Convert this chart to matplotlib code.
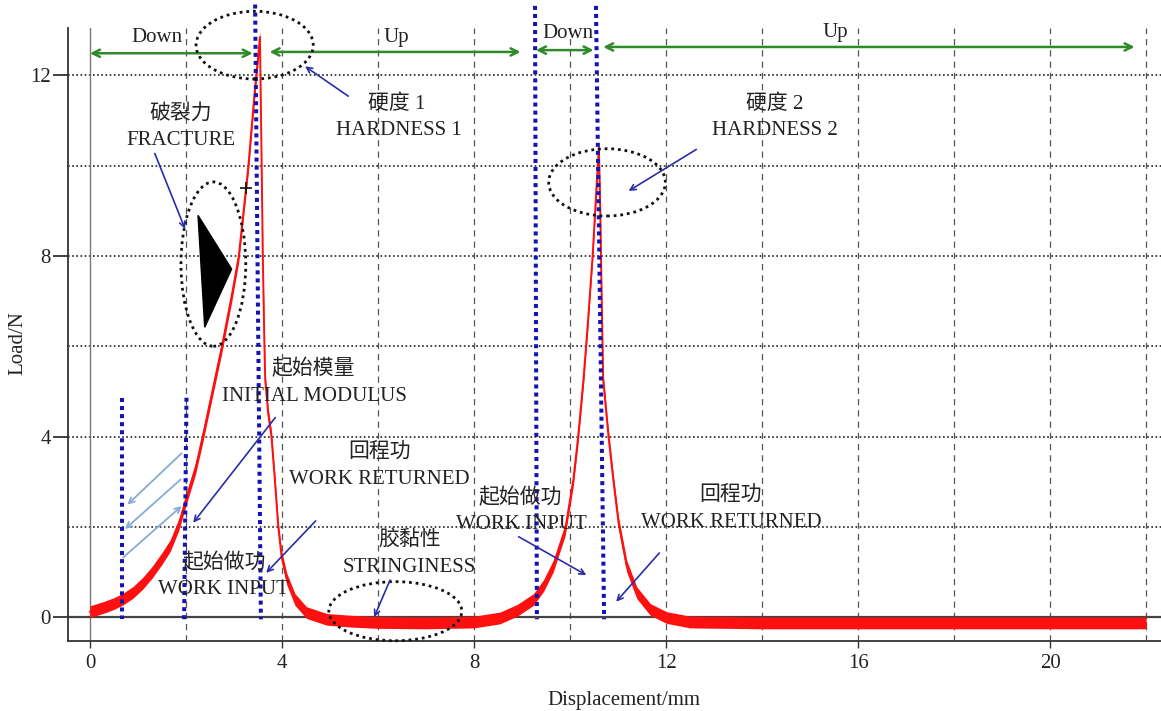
import matplotlib
matplotlib.use('Agg')
import matplotlib.pyplot as plt
import numpy as np
from matplotlib.patches import Ellipse, Polygon

plt.rcParams['font.family'] = ['Liberation Serif', 'Noto Sans CJK SC', 'DejaVu Sans']

# ---------------- data ----------------
curve_x = [0.0, 0.3, 0.5, 0.69, 0.9, 1.1, 1.3, 1.5, 1.67, 1.85, 2.0, 2.2, 2.35, 2.55, 2.75, 2.95,
           3.1, 3.23, 3.3, 3.42, 3.54, 3.57, 3.6, 3.63, 3.65, 3.71, 3.78, 3.85, 3.92, 3.99,
           4.1, 4.27, 4.51, 4.93, 5.42, 6.0, 7.0, 8.0, 8.54, 8.9, 9.24, 9.45, 9.65, 9.9,
           10.07, 10.17, 10.28, 10.37, 10.47, 10.55, 10.6, 10.63, 10.66, 10.69, 10.8, 10.9,
           11.01, 11.18, 11.39, 11.67, 12.01, 12.5, 14.0, 16.0, 18.0, 20.0, 22.0]
curve_y = [0.12, 0.22, 0.30, 0.40, 0.55, 0.75, 1.0, 1.3, 1.58, 2.05, 2.6, 3.3, 4.0, 5.0, 6.0, 7.1,
           8.0, 9.3, 10.0, 11.5, 12.85, 10.5, 8.0, 6.2, 5.26, 4.53, 4.0, 3.05, 2.02, 1.35,
           0.84, 0.39, 0.10, -0.05, -0.09, -0.12, -0.13, -0.11, -0.02, 0.15, 0.39, 0.70, 1.13, 1.94,
           3.05, 4.01, 5.27, 6.5, 8.0, 9.5, 10.4, 9.0, 7.0, 5.27, 4.01, 3.05,
           2.09, 1.13, 0.54, 0.17, -0.01, -0.11, -0.13, -0.13, -0.13, -0.13, -0.13]

x_ticks = [0, 4, 8, 12, 16, 20]
y_ticks = [0, 4, 8, 12]
x_grid = [2, 4, 6, 8, 10, 12, 14, 16, 18, 20, 22]
y_grid = [2, 4, 6, 8, 10, 12]

# blue dotted phase markers: (x_top, y_top, x_bottom, y_bottom)
marker_lines = [(0.66, 4.86, 0.66, -0.05),
                (2.01, 4.86, 1.96, -0.10),
                (3.44, 13.57, 3.56, -0.05),
                (9.27, 13.54, 9.31, -0.05),
                (10.54, 13.54, 10.71, -0.05)]

# green double arrows: (x_start, x_end, y), label, label position
phase_arrows = [(0.0, 3.39, 12.49), (3.74, 8.97, 12.52), (9.29, 10.49, 12.56), (10.69, 21.76, 12.63)]
phase_labels = ['Down', 'Up', 'Down', 'Up']
phase_label_pos = [(1.40, 12.85), (6.39, 12.85), (9.95, 12.93), (15.52, 12.95)]

# annotation texts
labels = ['硬度 1', 'HARDNESS 1', '破裂力', 'FRACTURE', '硬度 2', 'HARDNESS 2',
          '起始模量', 'INITIAL MODULUS', '回程功', 'WORK RETURNED', '起始做功', 'WORK INPUT',
          '胶黏性', 'STRINGINESS', '起始做功', 'WORK INPUT', '回程功', 'WORK RETURNED']
label_pos = [(6.39, 11.36), (6.44, 10.77), (1.89, 11.14), (1.90, 10.55), (14.27, 11.36), (14.26, 10.77),
             (4.66, 5.49), (4.67, 4.88), (6.03, 3.63), (6.03, 3.04), (8.97, 2.64), (8.99, 2.05),
             (6.66, 1.72), (6.66, 1.09), (2.79, 1.20), (2.79, 0.61), (13.35, 2.68), (13.35, 2.09)]

# dark blue pointer arrows: (start, end)
pointer_arrows = [((1.35, 10.27), (1.98, 8.60)),
                  ((5.38, 11.54), (4.48, 12.20)),
                  ((12.63, 10.36), (11.22, 9.44)),
                  ((3.86, 4.42), (2.15, 2.09)),
                  ((4.70, 2.13), (3.67, 0.98)),
                  ((6.25, 0.82), (5.92, 0.00)),
                  ((8.93, 1.78), (10.34, 0.93)),
                  ((11.86, 1.42), (10.96, 0.34))]

# light blue arrows (work input area)
light_arrows = [((1.91, 3.63), (0.78, 2.49)),
                ((1.89, 3.05), (0.73, 1.95)),
                ((0.69, 1.32), (1.91, 2.46))]

# dotted ellipses: (cx, cy, width, height)
ellipses = [(3.43, 12.67, 2.44, 1.50),
            (2.57, 7.82, 1.35, 3.64),
            (10.77, 9.63, 2.43, 1.49),
            (6.36, 0.13, 2.77, 1.31)]

triangle = [(2.25, 8.90), (2.95, 7.71), (2.39, 6.42)]
fracture_mark = (3.25, 9.5)

# ---------------- drawing ----------------
W, H = 1161, 711
fig = plt.figure(figsize=(W / 100, H / 100), dpi=100)
ax = fig.add_axes([68 / W, 70 / H, (W - 68) / W, (641 - 28) / H])
ax.set_xlim(-0.458, 22.31)
ax.set_ylim(-0.53, 13.05)

for s in ['top', 'right']:
    ax.spines[s].set_visible(False)
for s in ['left', 'bottom']:
    ax.spines[s].set_color('#333333')
    ax.spines[s].set_linewidth(1.3)

for gx in x_grid:
    ax.axvline(gx, color='#555555', lw=0.9, ls=(0, (5, 4)), zorder=1)
for gy in y_grid:
    ax.axhline(gy, color='#222222', lw=1.2, ls=(0, (1, 1.5)), zorder=1)
ax.axvline(0, color='#777777', lw=1.0, zorder=1)
ax.axhline(0, color='#444444', lw=1.6, zorder=1)

ax.set_xticks(x_ticks)
ax.set_yticks(y_ticks)
ax.tick_params(axis='y', length=10.5, width=1.3, color='#333333', pad=2, labelsize=15)
ax.tick_params(axis='x', length=5, width=1.0, color='#333333', pad=4, labelsize=15)
for t in ax.get_xticklabels() + ax.get_yticklabels():
    t.set_color('#222222')

cx = np.array(curve_x)
cy = np.array(curve_y)
ax.fill_between(cx, cy - 0.13, cy + 0.13, color='#ff1010', lw=0, zorder=3)
ax.plot(cx, cy, color='#ff1010', lw=1.4, zorder=3)

for (xt, yt, xb, yb) in marker_lines:
    ax.plot([xt, xb], [yt, yb], color='#1414b4', lw=2.9, ls=(0, (1, 1)),
            solid_capstyle='butt', dash_capstyle='butt', zorder=4, clip_on=False)

for (x0, x1, y) in phase_arrows:
    ax.annotate('', xy=(x1, y), xytext=(x0, y),
                arrowprops=dict(arrowstyle='<->', color='#2f8a2a', lw=1.8,
                                mutation_scale=13, shrinkA=0, shrinkB=0),
                zorder=5, annotation_clip=False)
for lab, (x, y) in zip(phase_labels, phase_label_pos):
    ax.text(x, y, lab, ha='center', va='center', fontsize=15, color='#222222',
            zorder=6, clip_on=False)

for lab, (x, y) in zip(labels, label_pos):
    ax.text(x, y, lab, ha='center', va='center', fontsize=15, color='#222222', zorder=6)

for (s, e) in pointer_arrows:
    ax.annotate('', xy=e, xytext=s,
                arrowprops=dict(arrowstyle='->', color='#2c2ca8', lw=1.2,
                                mutation_scale=10, shrinkA=0, shrinkB=0), zorder=6)
for (s, e) in light_arrows:
    ax.annotate('', xy=e, xytext=s,
                arrowprops=dict(arrowstyle='->', color='#86acd4', lw=1.3,
                                mutation_scale=10, shrinkA=0, shrinkB=0), zorder=6)

for (ex, ey, ew, eh) in ellipses:
    ax.add_patch(Ellipse((ex, ey), ew, eh, fill=False, ec='#111111', lw=2.0,
                         ls=(0, (1, 1.4)), zorder=5, clip_on=False))

ax.add_patch(Polygon(triangle, closed=True, fc='black', ec='black', zorder=5))
ax.plot([fracture_mark[0]], [fracture_mark[1]], marker='+', ms=9, mew=1.2,
        color='#111111', zorder=6)

fig.text(18 / W, 1 - 343 / H, 'Load/N', rotation=90, ha='center', va='center',
         fontsize=15, color='#222222')
fig.text(624 / W, 1 - 700 / H, 'Displacement/mm', ha='center', va='center',
         fontsize=15, color='#222222')

fig.savefig('out.png', dpi=100)
